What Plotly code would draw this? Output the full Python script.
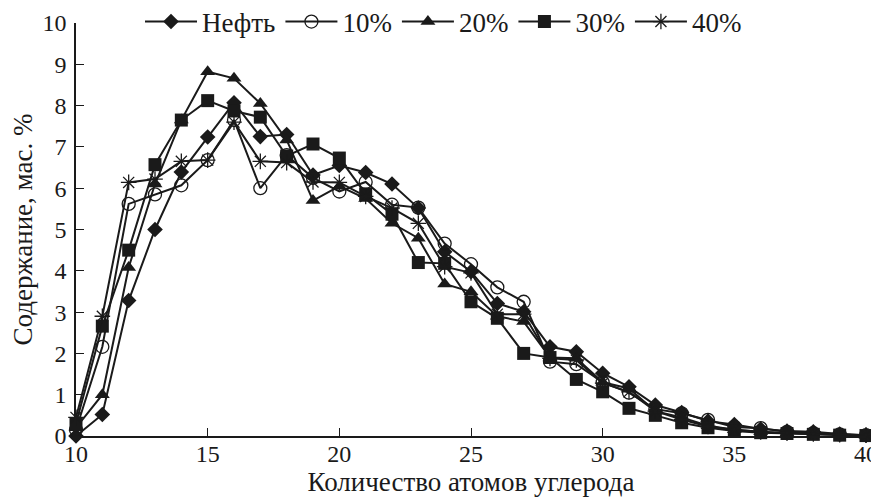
import plotly.graph_objects as go

carbons = list(range(10, 41))

neft = [0.0, 0.52, 3.28, 5.0, 6.39, 7.24, 8.07, 7.25, 7.3, 6.32, 6.55, 6.38, 6.1, 5.52, 4.46, 3.98,
        3.21, 3.01, 2.16, 2.04, 1.52, 1.19, 0.75, 0.57, 0.36, 0.28, 0.17, 0.12, 0.1, 0.05, 0.02]
p10 = [0.15, 2.16, 5.62, 5.85, 6.07, 6.68, 7.65, 6.0, 6.8, 6.25, 5.92, 6.15, 5.6, 5.53, 4.66, 4.16,
       3.6, 3.25, 1.8, 1.74, 1.3, 1.05, 0.65, 0.55, 0.39, 0.22, 0.19, 0.1, 0.07, 0.04, 0.02]
p20 = [0.2, 1.0, 4.08, 6.1, 7.65, 8.82, 8.66, 8.05, 7.17, 5.7, 6.05, 5.75, 5.15, 4.79, 3.68, 3.49,
       2.9, 2.77, 1.9, 1.88, 1.3, 1.15, 0.6, 0.45, 0.25, 0.15, 0.1, 0.07, 0.05, 0.03, 0.02]
p30 = [0.3, 2.66, 4.5, 6.57, 7.65, 8.12, 7.87, 7.72, 6.78, 7.07, 6.73, 5.86, 5.37, 4.2, 4.18, 3.25,
       2.85, 2.0, 1.9, 1.37, 1.07, 0.67, 0.5, 0.32, 0.2, 0.12, 0.08, 0.06, 0.04, 0.02, 0.01]
p40 = [0.45, 2.9, 6.14, 6.22, 6.65, 6.68, 7.6, 6.65, 6.62, 6.15, 6.14, 5.8, 5.52, 5.15, 4.1, 3.95,
       2.95, 2.95, 1.88, 1.84, 1.28, 1.07, 0.6, 0.4, 0.23, 0.15, 0.1, 0.07, 0.05, 0.03, 0.02]

series_names = ["Нефть", "10%", "20%", "30%", "40%"]
x_ticks = [10, 15, 20, 25, 30, 35, 40]
y_ticks = list(range(0, 11))

INK = "#1a1a1a"
FONT = "Liberation Serif"

# page body has an 8px margin, so the figure is sized to fit the 879x499 window
W, H = 871, 491

styles = [
    dict(symbol="diamond", size=12, color=INK, line=dict(width=0)),
    dict(symbol="circle-open", size=13, color=INK, line=dict(width=1.3)),
    dict(symbol="triangle-up", size=13, color=INK, line=dict(width=0)),
    dict(symbol="square", size=13, color=INK, line=dict(width=0)),
    dict(symbol="asterisk-open", size=13, color=INK, line=dict(width=1.3, color=INK)),
]

fig = go.Figure()
for name, vals, mk in zip(series_names, [neft, p10, p20, p30, p40], styles):
    fig.add_trace(go.Scatter(
        x=carbons, y=vals, name=name, mode="lines+markers",
        line=dict(color=INK, width=2), marker=mk, cliponaxis=False,
    ))

fig.update_layout(
    width=W, height=H,
    margin=dict(l=68, r=13, t=15, b=63, autoexpand=False),
    paper_bgcolor="white", plot_bgcolor="white",
    font=dict(family=FONT, size=23, color=INK),
    showlegend=True,
    legend=dict(orientation="h", xref="container", yref="container",
                x=132 / W, xanchor="left", y=1 - 14 / H, yanchor="middle",
                bgcolor="rgba(0,0,0,0)", font=dict(family=FONT, size=27, color=INK),
                itemwidth=52, tracegroupgap=0, itemclick=False),
    xaxis=dict(range=[10, 40], tickvals=x_ticks, ticks="inside", ticklen=8, tickwidth=1.2,
               tickcolor=INK, showline=True, linecolor=INK, linewidth=1.5, showgrid=False,
               zeroline=False, automargin=False, ticklabelstandoff=-5, ticklabeloverflow="allow",
               tickfont=dict(family=FONT, size=24, color=INK),
               title=dict(text="Количество атомов углерода", font=dict(family=FONT, size=27, color=INK),
                          standoff=4)),
    yaxis=dict(range=[0, 10], tickvals=y_ticks, ticks="inside", ticklen=8, tickwidth=1.2,
               tickcolor=INK, showline=True, linecolor=INK, linewidth=1.5, showgrid=False,
               zeroline=False, automargin=False, ticklabelstandoff=3,
               tickfont=dict(family=FONT, size=24, color=INK),
               title=dict(text="Содержание, мас. %", font=dict(family=FONT, size=27, color=INK),
                          standoff=8)),
)

fig.write_html("out.html")
